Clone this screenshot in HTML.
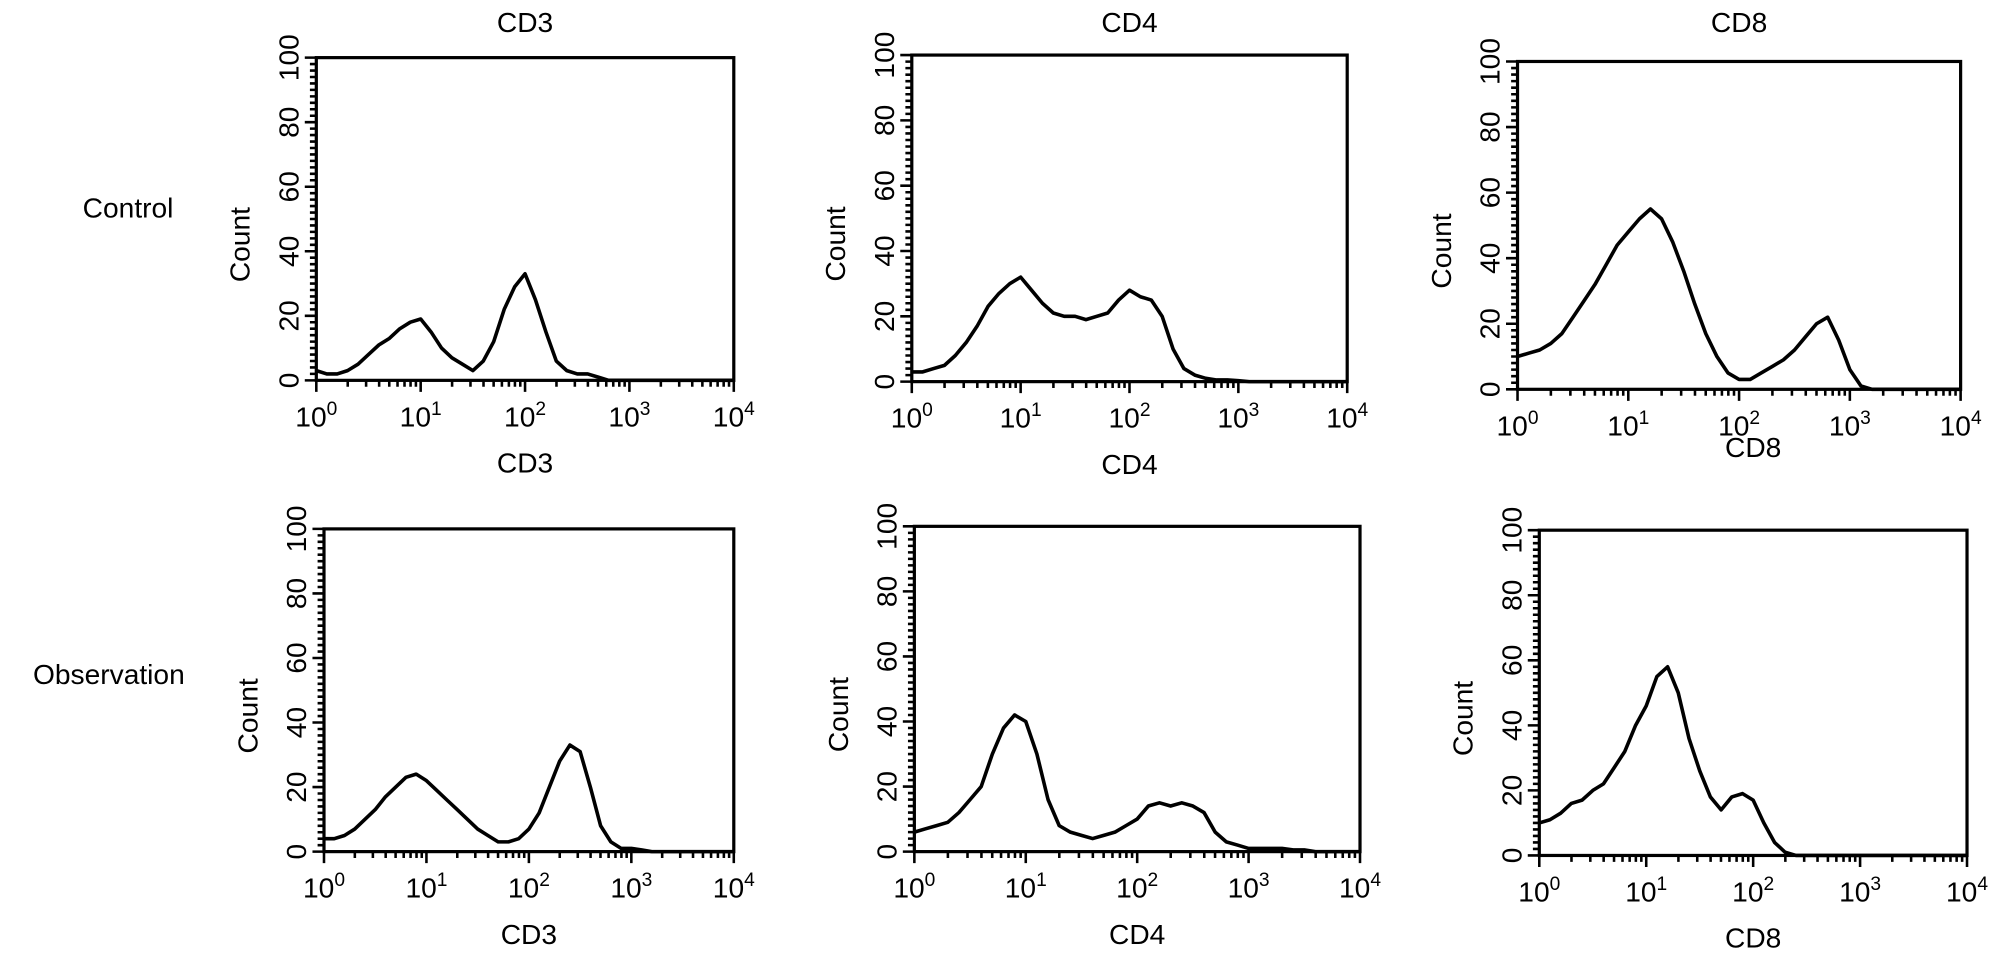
<!DOCTYPE html>
<html><head><meta charset="utf-8"><style>
html,body{margin:0;padding:0;background:#fff;}
svg{display:block;font-family:"Liberation Sans",sans-serif;}
</style></head><body>
<svg id="fig" width="2008" height="972" viewBox="0 0 1568 759" xmlns="http://www.w3.org/2000/svg">
<text x="100" y="170" font-size="22" text-anchor="middle">Control</text>
<text x="85" y="534" font-size="22" text-anchor="middle">Observation</text>
</svg>
<script>
// Counts sampled every 0.1 decade from 10^0 to 10^4 (41 points)
const logX = [];
for (let i = 0; i <= 40; i++) logX.push(i / 10);
const cd3Control = [3,2,2,3,5,8,11,13,16,18,19,15,10,7,5,3,6,12,22,29,33,25,15,6,3,2,2,1,0,0,0,0,0,0,0,0,0,0,0,0,0];
const cd4Control = [3,3,4,5,8,12,17,23,27,30,32,28,24,21,20,20,19,20,21,25,28,26,25,20,10,4,2,1,0.5,0.5,0.3,0,0,0,0,0,0,0,0,0,0];
const cd8Control = [10,11,12,14,17,22,27,32,38,44,48,52,55,52,45,36,26,17,10,5,3,3,5,7,9,12,16,20,22,15,6,1,0,0,0,0,0,0,0,0,0];
const cd3Obs = [4,4,5,7,10,13,17,20,23,24,22,19,16,13,10,7,5,3,3,4,7,12,20,28,33,31,20,8,3,1,1,0.5,0,0,0,0,0,0,0,0,0];
const cd4Obs = [6,7,8,9,12,16,20,30,38,42,40,30,16,8,6,5,4,5,6,8,10,14,15,14,15,14,12,6,3,2,1,1,1,1,0.5,0.5,0,0,0,0,0];
const cd8Obs = [10,11,13,16,17,20,22,27,32,40,46,55,58,50,36,26,18,14,18,19,17,10,4,1,0,0,0,0,0,0,0,0,0,0,0,0,0,0,0,0,0];
const yTicks = [0,20,40,60,80,100];
const xTickExps = [0,1,2,3,4];

const panels = [
 {name:'cd3-control', title:'CD3', xlabel:'CD3', data:cd3Control, l:247,r:573,t:45,b:297},
 {name:'cd4-control', title:'CD4', xlabel:'CD4', data:cd4Control, l:712,r:1052,t:43,b:298},
 {name:'cd8-control', title:'CD8', xlabel:null, data:cd8Control, l:1185,r:1531,t:48,b:304},
 {name:'cd3-observation', title:null, xlabel:'CD3', data:cd3Obs, l:253,r:573,t:413,b:665},
 {name:'cd4-observation', title:null, xlabel:'CD4', data:cd4Obs, l:714,r:1062,t:411,b:665},
 {name:'cd8-observation', title:'CD8', xlabel:'CD8', data:cd8Obs, l:1202,r:1536,t:414,b:668}
];
const NS='http://www.w3.org/2000/svg';
const svg=document.getElementById('fig');
function mk(tag,attrs,parent){const e=document.createElementNS(NS,tag);for(const k in attrs)e.setAttribute(k,attrs[k]);(parent||svg).appendChild(e);return e;}
panels.forEach(p=>{
 const g=mk('g',{});
 
 
 const xs=v=>p.l+(p.r-p.l)*v/4;
 const ys=v=>p.b-(p.b-p.t)*v/100;
 const box=mk('rect',{x:p.l,y:p.t,width:p.r-p.l,height:p.b-p.t,fill:'none',stroke:'#000','stroke-width':2.5},g);
 
 
 let d='';
 for(let v=0;v<=100;v+=2){const y=ys(v);const len=v%20===0?9:5;d+=`M${p.l-len} ${y}H${p.l}`;}
 for(let e=0;e<4;e++)for(let k=1;k<=10;k++){const x=xs(e+Math.log10(k));const len=k===1||k===10?9:5;d+=`M${x} ${p.b}V${p.b+len}`;}
 const tk=mk('path',{d:d,stroke:'#000','stroke-width':2,fill:'none'},g);
 
 
 yTicks.forEach(v=>{
  const t=mk('text',{x:p.l-14,y:ys(v),'font-size':22,'text-anchor':'middle',transform:`rotate(-90 ${p.l-14} ${ys(v)})`},g);
  t.textContent=v;
  
  
 });
 const cy=(p.t+p.b)/2+20;
 const ct=mk('text',{x:p.l-52,y:cy,'font-size':22,'text-anchor':'middle',transform:`rotate(-90 ${p.l-52} ${cy})`},g);
 ct.textContent='Count';
 
 
 xTickExps.forEach(e=>{
  const t=mk('text',{x:xs(e),y:p.b+36,'font-size':22,'text-anchor':'middle'},g);
  t.textContent='10';
  const s=mk('tspan',{dy:-9,'font-size':15},t);s.textContent=e;
  
  
 });
 if(p.xlabel){const t=mk('text',{x:(p.l+p.r)/2,y:p.b+72,'font-size':22,'text-anchor':'middle'},g);t.textContent=p.xlabel;
  
  }
 if(p.title){const ty=p.t<200?25:357;const t=mk('text',{x:(p.l+p.r)/2,y:ty,'font-size':22,'text-anchor':'middle'},g);t.textContent=p.title;
  
  }
 let pd='';
 p.data.forEach((v,i)=>{pd+=(i?'L':'M')+xs(logX[i]).toFixed(1)+' '+ys(v).toFixed(1);});
 const h=mk('path',{d:pd,fill:'none',stroke:'#000','stroke-width':2.8,'stroke-linejoin':'round'},g);
 
 
});
</script>
</body></html>
